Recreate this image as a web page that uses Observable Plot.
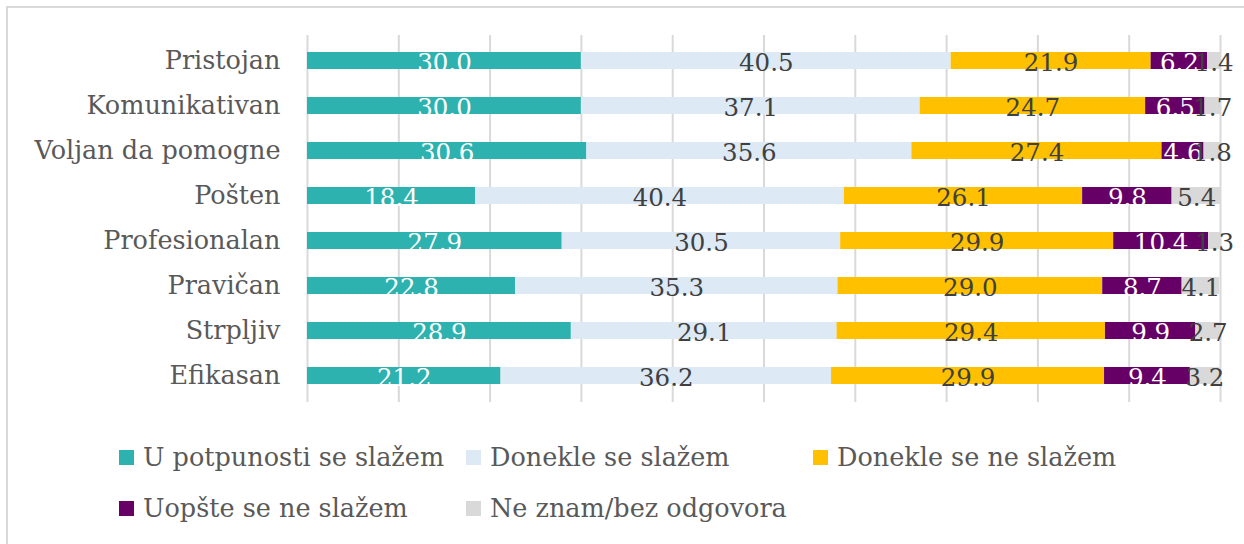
<!DOCTYPE html>
<html>
<head>
<meta charset="utf-8">
<script src="https://cdn.jsdelivr.net/npm/d3@7"></script>
<script src="https://cdn.jsdelivr.net/npm/@observablehq/plot@0.6"></script>
<style>
  html, body { margin: 0; padding: 0; background: #fff; }
  body { width: 1244px; height: 544px; position: relative; overflow: hidden; font-family: "DejaVu Serif", serif; }
  #frame { position: absolute; left: 6px; top: 6px; width: 1260px; height: 560px; border: 2px solid #d9d9d9; box-sizing: border-box; }
  #chart { position: absolute; left: 0; top: 0; }
  #legend { position: absolute; left: 0; top: 0; width: 1244px; height: 544px; }
  .item { position: absolute; display: flex; align-items: center; color: #595959; font-size: 25.5px; white-space: nowrap; }
  .sw { width: 15px; height: 15px; margin-right: 9px; }
</style>
</head>
<body>
<div id="frame"></div>
<div id="chart"></div>
<div id="legend"></div>
<script>
const categories = ["Pristojan", "Komunikativan", "Voljan da pomogne", "Pošten", "Profesionalan", "Pravičan", "Strpljiv", "Efikasan"];
const seriesNames = ["U potpunosti se slažem", "Donekle se slažem", "Donekle se ne slažem", "Uopšte se ne slažem", "Ne znam/bez odgovora"];
const seriesColors = ["#2EB2AF", "#DDEAF6", "#FFC000", "#660066", "#D9D9D9"];
const labelColors = ["#ffffff", "#404040", "#404040", "#ffffff", "#404040"];
const fullyAgree = [30.0, 30.0, 30.6, 18.4, 27.9, 22.8, 28.9, 21.2];
const somewhatAgree = [40.5, 37.1, 35.6, 40.4, 30.5, 35.3, 29.1, 36.2];
const somewhatDisagree = [21.9, 24.7, 27.4, 26.1, 29.9, 29.0, 29.4, 29.9];
const stronglyDisagree = [6.2, 6.5, 4.6, 9.8, 10.4, 8.7, 9.9, 9.4];
const dontKnow = [1.4, 1.7, 1.8, 5.4, 1.3, 4.1, 2.7, 3.2];
const gridTicks = [0, 10, 20, 30, 40, 50, 60, 70, 80, 90, 100];

const seriesValues = [fullyAgree, somewhatAgree, somewhatDisagree, stronglyDisagree, dontKnow];
const rows = [];
seriesNames.forEach((s, si) => {
  categories.forEach((c, ci) => {
    rows.push({cat: c, series: s, si, value: seriesValues[si][ci]});
  });
});

const font = "DejaVu Serif";
const chart = Plot.plot({
  width: 1244,
  height: 430,
  marginLeft: 307,
  marginRight: 24,
  marginTop: 35,
  marginBottom: 28,
  style: {fontFamily: font, background: "transparent"},
  x: {domain: [0, 100], axis: null},
  y: {domain: categories, paddingInner: 0.62, paddingOuter: 0.31, axis: null},
  color: {domain: seriesNames, range: seriesColors},
  marks: [
    Plot.ruleX(gridTicks, {x: d => d, stroke: "#d9d9d9", strokeWidth: 2}),
    Plot.barX(rows, Plot.stackX({x: "value", y: "cat", fill: "series", order: seriesNames})),
    Plot.axisY({tickSize: 0, tickPadding: 27, fontSize: 25.5, fill: "#595959", label: null}),
    Plot.text(rows, Plot.stackX({
      x: "value", y: "cat", z: "series", order: seriesNames,
      text: d => labelColors[d.si] === "#ffffff" ? d.value.toFixed(1) : "",
      fill: "#ffffff", fontSize: 24.5, dy: 2.5
    })),
    Plot.text(rows, Plot.stackX({
      x: "value", y: "cat", z: "series", order: seriesNames,
      text: d => labelColors[d.si] !== "#ffffff" ? d.value.toFixed(1) : "",
      fill: "#404040", fontSize: 24.5, dy: 2.5
    }))
  ]
});
document.getElementById("chart").appendChild(chart);

// Legend
const legendPos = [[119, 457], [466, 457], [813, 457], [119, 508], [466, 508]];
const legend = document.getElementById("legend");
seriesNames.forEach((s, i) => {
  const it = document.createElement("div");
  it.className = "item";
  it.style.left = legendPos[i][0] + "px";
  it.style.top = (legendPos[i][1] - 15) + "px";
  it.style.height = "30px";
  const sw = document.createElement("span");
  sw.className = "sw";
  sw.style.background = seriesColors[i];
  const tx = document.createElement("span");
  tx.textContent = s;
  it.appendChild(sw);
  it.appendChild(tx);
  legend.appendChild(it);
});
</script>
</body>
</html>
